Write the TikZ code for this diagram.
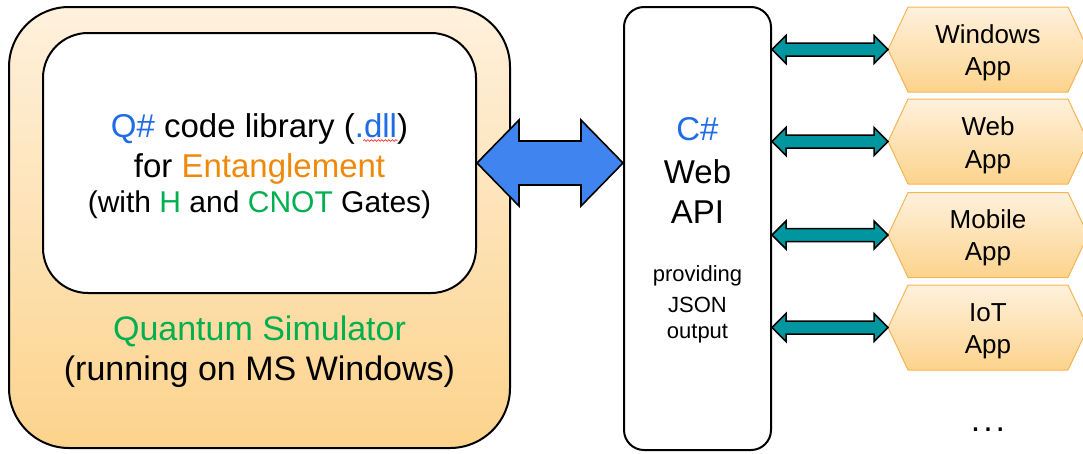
\documentclass[tikz,border=0pt]{standalone}
\usepackage{fontspec}
\setmainfont{Liberation Sans}
\usetikzlibrary{calc,decorations.pathmorphing}

\definecolor{qblue}{RGB}{31,108,230}
\definecolor{qorange}{RGB}{238,137,10}
\definecolor{qgreen}{RGB}{0,176,80}
\definecolor{arrowblue}{RGB}{64,132,240}
\definecolor{arrowteal}{RGB}{0,150,160}
\definecolor{peachtop}{RGB}{255,241,221}
\definecolor{peachbot}{RGB}{252,211,140}
\definecolor{hexline}{RGB}{246,180,85}

% horizontal double-headed block arrow between two points
% #1 from, #2 to, #3 head length, #4 head half-height, #5 shaft half-height, #6 style
\newcommand\blockarrow[6]{%
  \path[#6] let \p1=(#1), \p2=(#2) in
    (\x1,\y1) -- (\x1+#3,\y1+#4) -- (\x1+#3,\y1+#5) -- (\x2-#3,\y1+#5)
    -- (\x2-#3,\y1+#4) -- (\x2,\y1) -- (\x2-#3,\y1-#4) -- (\x2-#3,\y1-#5)
    -- (\x1+#3,\y1-#5) -- (\x1+#3,\y1-#4) -- cycle;}

% hexagon outline drawn round a rectangular node
\newcommand\hexoutline[1]{%
  \path[hexshape] (#1.west) -- ($(#1.north west)+(20pt,0pt)$)
    -- ($(#1.north east)+(-20pt,0pt)$) -- (#1.east)
    -- ($(#1.south east)+(-20pt,0pt)$) -- ($(#1.south west)+(20pt,0pt)$) -- cycle;}

\begin{document}
\begin{tikzpicture}[x=1pt,y=-1pt,
  outerbox/.style={draw=black, line width=2pt, rounded corners=60pt,
    top color=peachtop, bottom color=peachbot,
    minimum width=501pt, minimum height=441pt, inner sep=0pt},
  innerbox/.style={draw=black, line width=2pt, rounded corners=45pt, fill=white,
    minimum width=433pt, minimum height=260pt, inner sep=0pt},
  apibox/.style={draw=black, line width=2pt, rounded corners=20pt, fill=white,
    minimum width=147pt, minimum height=443pt, inner sep=0pt},
  hexbox/.style={rectangle, minimum width=200pt, minimum height=85pt,
    inner sep=0pt, outer sep=0pt},
  hexshape/.style={draw=hexline, line width=1pt, line join=round,
    top color=peachtop, bottom color=peachbot},
  big/.style={anchor=base, inner sep=0pt, font=\fontsize{33}{40}\selectfont},
  bigger/.style={anchor=base, inner sep=0pt, font=\fontsize{34}{40}\selectfont},
  mid/.style={anchor=base, inner sep=0pt, font=\fontsize{30}{36}\selectfont},
  small/.style={anchor=base, inner sep=0pt, font=\fontsize{22}{28}\selectfont},
  applbl/.style={anchor=base, inner sep=0pt, font=\fontsize{26}{32}\selectfont},
  bluearrow/.style={draw=black, line width=1.6pt, fill=arrowblue, line join=miter},
  tealarrow/.style={draw=black, line width=1.5pt, fill=arrowteal, line join=miter},
  spell/.style={draw=red, line width=0.6pt,
    decorate, decoration={snake, segment length=3.5pt, amplitude=0.9pt}},
]
\useasboundingbox (0,0) rectangle (1083,453);

% simulator and the library it hosts
\node[outerbox] (sim) at (259.5,227.5) {};
\node[innerbox] (lib) at (259.5,163) {};
\node[big] (lib1) at (259.5,137) {\textcolor{qblue}{Q\#} code library (\textcolor{qblue}{.dll})};
\node[big] (lib2) at (259.5,177) {for \textcolor{qorange}{Entanglement}};
\node[mid] (lib3) at (259.5,212) {(with \textcolor{qgreen}{H} and \textcolor{qgreen}{CNOT} Gates)};
\node[bigger] (sim1) at (259.5,340) {\textcolor{qgreen}{Quantum Simulator}};
\node[bigger] (sim2) at (259.5,380) {(running on MS Windows)};
% spell-check squiggle under "dll"
\coordinate (sqA) at ($(lib1.base east)+(-45pt,-3.5pt)$);
\coordinate (sqB) at ($(lib1.base east)+(-11pt,-3.5pt)$);
\draw[spell] (sqA) -- (sqB);

% web API
\node[apibox] (api) at (697.5,228.5) {};
\node[big] (api1) at (697.5,140) {\textcolor{qblue}{C\#}};
\node[big] (api2) at (697.5,183) {Web};
\node[big] (api3) at (697.5,223) {API};
\node[small] (api4) at (697.5,281) {providing};
\node[small] (api5) at (697.5,312) {JSON};
\node[small] (api6) at (697.5,338) {output};

% client applications
\node[hexbox] (win) at (988,49.5) {};
\node[hexbox] (web) at (988,141.5) {};
\node[hexbox] (mob) at (988,235) {};
\node[hexbox] (iot) at (988,327.5) {};
\foreach \h in {win,web,mob,iot}{\hexoutline{\h}}
\node[applbl] (win1) at (988,43) {Windows};
\node[applbl] (win2) at (988,75) {App};
\node[applbl] (web1) at (988,135) {Web};
\node[applbl] (web2) at (988,168) {App};
\node[applbl] (mob1) at (988,228) {Mobile};
\node[applbl] (mob2) at (988,260) {App};
\node[applbl] (iot1) at (988,321) {IoT};
\node[applbl] (iot2) at (988,353) {App};
\node[anchor=base, inner sep=0pt, font=\fontsize{34}{40}\selectfont] (more) at (988,431) {.\hspace{3pt}.\hspace{3pt}.};

% connectors
\coordinate (apiL) at (lib.east -| api.west);
\blockarrow{lib.east}{apiL}{42pt}{43pt}{22pt}{bluearrow}
\foreach \h in {win,web,mob,iot}{
  \coordinate (a\h) at (api.east |- \h.west);
  \blockarrow{a\h}{\h.west}{14pt}{14pt}{6.5pt}{tealarrow}
}
\end{tikzpicture}
\end{document}
